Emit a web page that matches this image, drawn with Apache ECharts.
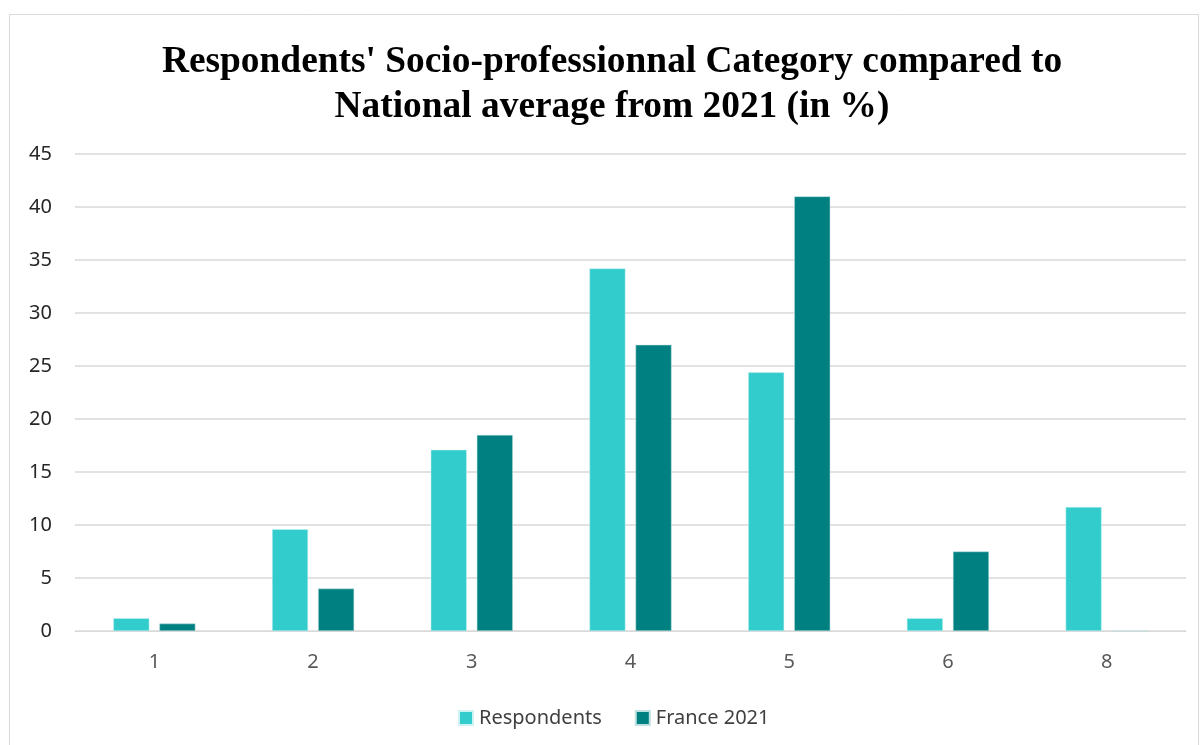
<!DOCTYPE html>
<html>
<head>
<meta charset="utf-8">
<script src="https://cdn.jsdelivr.net/npm/echarts@6/dist/echarts.min.js"></script>
<style>
html,body{margin:0;padding:0;background:#fff;}
#chart{width:1200px;height:745px;}
</style>
</head>
<body>
<div id="chart"></div>
<script>
const categories = ['1', '2', '3', '4', '5', '6', '8'];
const respondents = [1.2, 9.6, 17.1, 34.2, 24.4, 1.2, 11.7];
const france2021 = [0.7, 4.0, 18.5, 27.0, 41.0, 7.5, 0];
const yTicks = { min: 0, max: 45, interval: 5 };

const chart = echarts.init(document.getElementById('chart'));
chart.setOption({
  animation: false,
  backgroundColor: '#fff',
  title: {
    text: "Respondents' Socio-professionnal Category compared to\nNational average from 2021 (in %)",
    left: 607, textAlign: 'center', top: 35,
    textStyle: { fontFamily: 'Liberation Serif', fontWeight: 'bold', fontSize: 37.4, color: '#000', lineHeight: 45 }
  },
  graphic: [{
    type: 'rect', shape: { x: 9.5, y: 14.5, width: 1189, height: 740 },
    style: { fill: 'none', stroke: '#d9d9d9', lineWidth: 1 }, silent: true
  }],
  legend: {
    data: ['Respondents', 'France 2021'],
    top: 703, left: 453,
    itemWidth: 14, itemHeight: 14, itemGap: 33,
    icon: 'rect',
    textStyle: { fontFamily: 'Noto Sans', fontSize: 20, color: '#404040', padding: [0, 0, 0, 1] }
  },
  grid: { left: 75, right: 14, top: 154, bottom: 114, containLabel: false },
  xAxis: {
    type: 'category', data: categories,
    axisLine: { lineStyle: { color: '#d9d9d9', width: 1 } },
    axisTick: { show: false },
    axisLabel: { fontFamily: 'Noto Sans', fontSize: 20, color: '#595959', margin: 21 }
  },
  yAxis: {
    type: 'value', min: yTicks.min, max: yTicks.max, interval: yTicks.interval,
    axisLine: { show: false }, axisTick: { show: false },
    axisLabel: { fontFamily: 'Noto Sans', fontSize: 20, color: '#262626', margin: 23 },
    splitLine: { lineStyle: { color: '#d9d9d9', width: 1.5 } }
  },
  series: [
    { name: 'Respondents', type: 'bar', data: respondents, barWidth: 36, barGap: '28%',
      itemStyle: { color: '#33CCCC', borderColor: '#ccf2f2', borderWidth: 0.5 } },
    { name: 'France 2021', type: 'bar', data: france2021, barWidth: 36,
      itemStyle: { color: '#008080', borderColor: '#bfe0e0', borderWidth: 0.5 } }
  ]
});
</script>
</body>
</html>
